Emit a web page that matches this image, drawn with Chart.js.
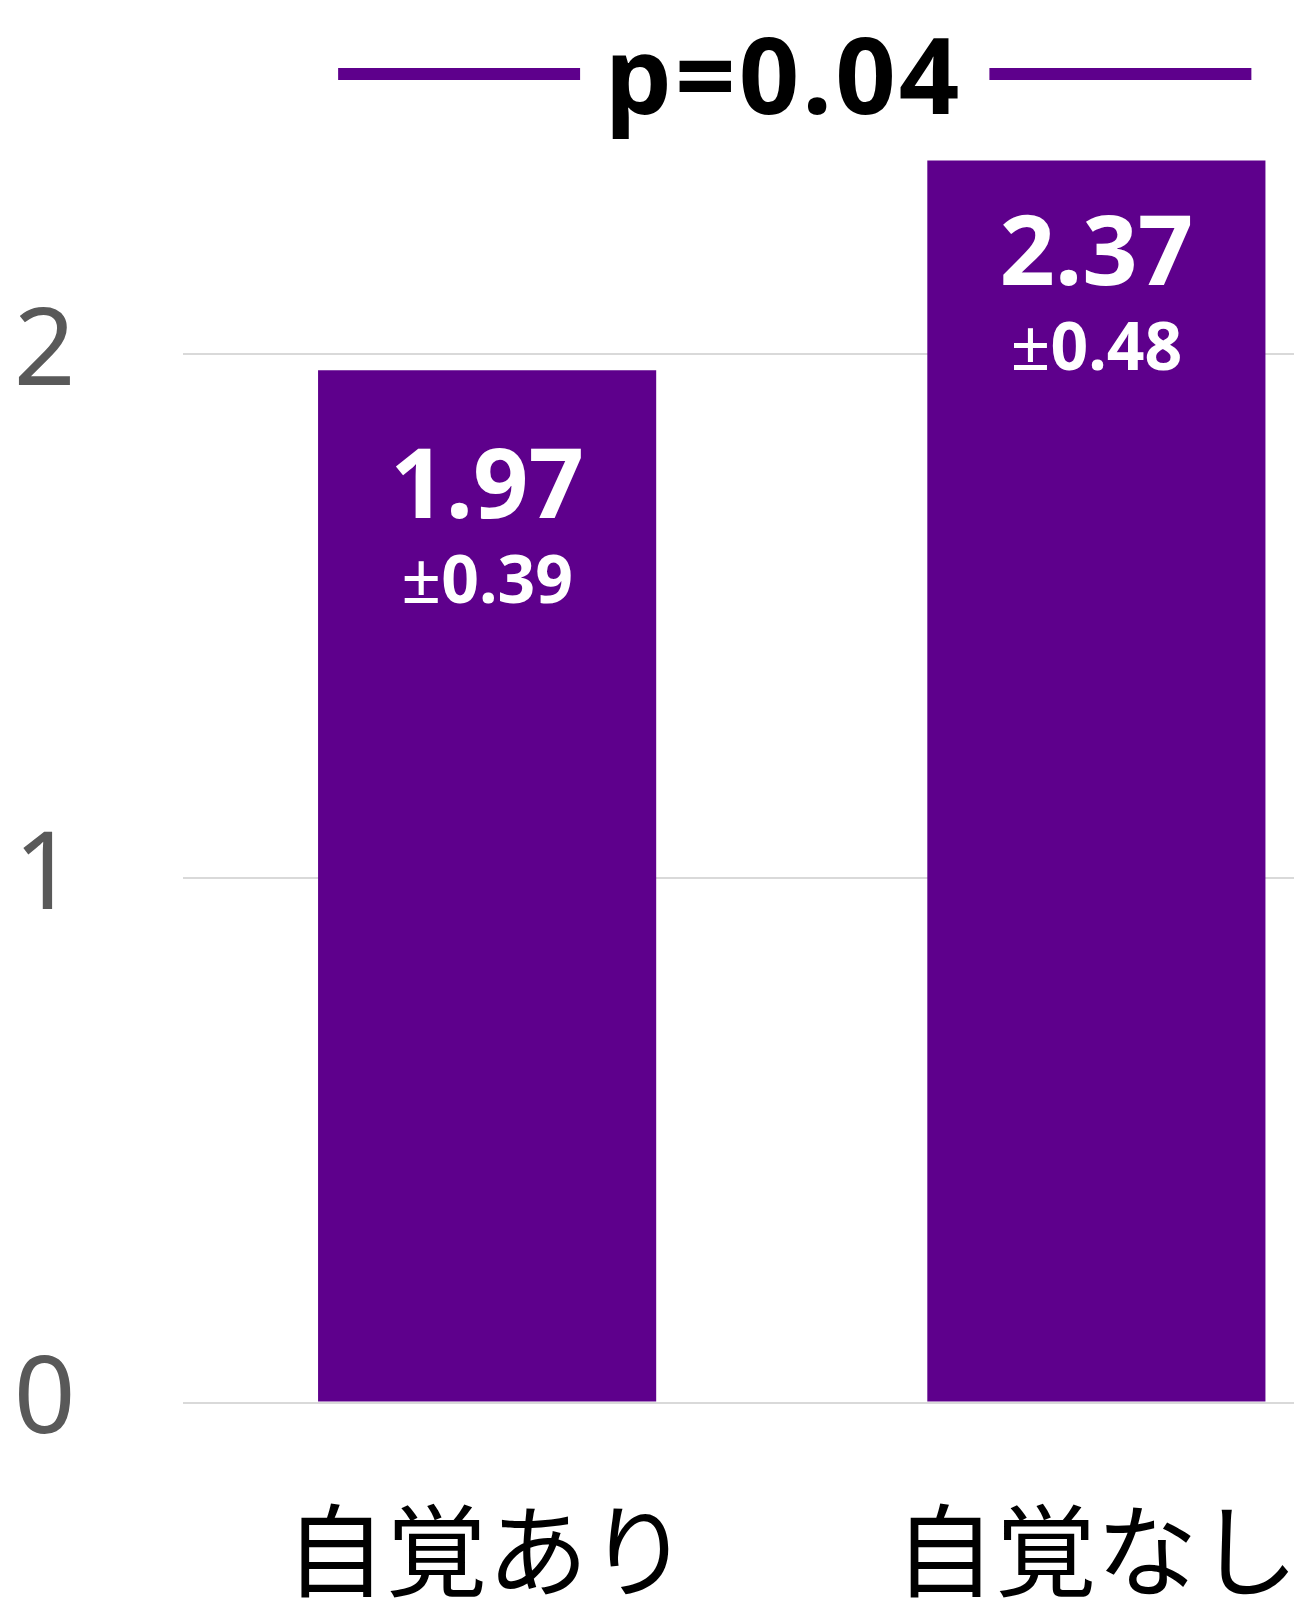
<!DOCTYPE html>
<html lang="ja">
<head>
<meta charset="utf-8">
<script src="https://cdn.jsdelivr.net/npm/chart.js@4.4.1/dist/chart.umd.min.js"></script>
<style>
  html, body { margin: 0; padding: 0; background: #fff; overflow: hidden; }
  #wrap { width: 1294px; height: 1605px; overflow: hidden; }
  canvas { display: block; }
</style>
</head>
<body>
<div id="wrap"><canvas id="chart" width="1401" height="1605"></canvas></div>
<script>
// data
const categories = ["自覚あり", "自覚なし"]
const means = [1.97, 2.37]
const sds = [0.39, 0.48]
const yTicks = [0, 1, 2]
const pText = "p=0.04"

const PURPLE = "#5e008c"

// label baseline offsets below each bar top (px)
const meanOffsets = [148, 124]
const sdGap = 85

const barLabels = {
  id: "barLabels",
  afterDatasetsDraw(chart) {
    const ctx = chart.ctx
    const bars = chart.getDatasetMeta(0).data
    ctx.save()
    ctx.fillStyle = "#fff"
    ctx.textBaseline = "alphabetic"
    bars.forEach((bar, i) => {
      const y = bar.y + meanOffsets[i]
      ctx.textAlign = "center"
      ctx.font = "bold 97px 'Noto Sans'"
      ctx.fillText(means[i].toFixed(2), bar.x, y)

      // "±" drawn thinner than the number, like the original
      const num = sds[i].toFixed(2)
      ctx.font = "70px 'Noto Sans'"
      const pmW = ctx.measureText("±").width
      ctx.font = "bold 66px 'Noto Sans'"
      const numW = ctx.measureText(num).width
      const left = bar.x - (pmW + numW) / 2
      ctx.textAlign = "left"
      ctx.font = "70px 'Noto Sans'"
      ctx.fillText("±", left, y + sdGap)
      ctx.font = "bold 66px 'Noto Sans'"
      ctx.fillText(num, left + pmW, y + sdGap)
    })

    // significance bracket
    const x0 = bars[0].x - 149
    const x1 = bars[1].x + 155
    const cx = (bars[0].x + bars[1].x) / 2 - 8
    ctx.textAlign = "center"
    ctx.font = "bold 106px 'Noto Sans'"
    ctx.letterSpacing = "3px"
    const w = ctx.measureText(pText).width
    ctx.fillStyle = "#000"
    ctx.fillText(pText, cx, 114)
    ctx.strokeStyle = PURPLE
    ctx.lineWidth = 12
    ctx.beginPath()
    ctx.moveTo(x0, 74)
    ctx.lineTo(cx - w / 2 - 25, 74)
    ctx.moveTo(cx + w / 2 + 27, 74)
    ctx.lineTo(x1, 74)
    ctx.stroke()
    ctx.restore()
  },
}

new Chart(document.getElementById("chart"), {
  type: "bar",
  data: {
    labels: categories,
    datasets: [
      {
        data: means,
        backgroundColor: PURPLE,
        borderWidth: 0,
        barPercentage: 0.555,
        categoryPercentage: 1,
      },
    ],
  },
  options: {
    responsive: false,
    animation: false,
    devicePixelRatio: 1,
    layout: { padding: { top: 40, right: 0, bottom: 0, left: 0 } },
    plugins: {
      legend: { display: false },
      tooltip: { enabled: false },
    },
    scales: {
      x: {
        grid: { display: false, drawTicks: false },
        border: { display: false },
        ticks: {
          padding: 88,
          color: "#000",
          font: { family: "'Noto Sans CJK JP'", size: 101 },
        },
        afterFit(scale) {
          scale.height = 202.5
          scale.paddingLeft = 0
          scale.paddingRight = 0
        },
      },
      y: {
        min: 0,
        max: 2.6,
        grid: { color: "#d9d9d9", lineWidth: 2, drawTicks: false },
        border: { display: false },
        ticks: {
          stepSize: 1,
          padding: 107,
          crossAlign: "center",
          color: "#595959",
          font: { family: "'Noto Sans'", size: 108 },
        },
        afterBuildTicks(scale) {
          scale.ticks = yTicks.map((v) => ({ value: v }))
        },
        afterFit(scale) {
          scale.width = 182.5
          scale.paddingTop = 0
          scale.paddingBottom = 0
        },
      },
    },
  },
  plugins: [barLabels],
})
</script>
</body>
</html>
